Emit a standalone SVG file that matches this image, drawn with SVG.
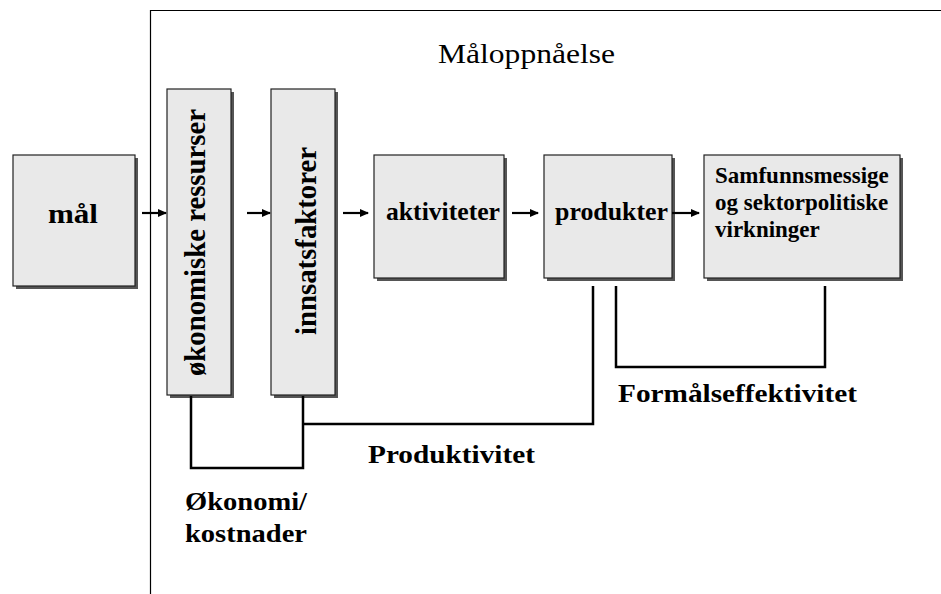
<svg xmlns="http://www.w3.org/2000/svg" width="941" height="594" viewBox="0 0 941 594">
<defs>
<marker id="ah" markerWidth="10" markerHeight="10" refX="8" refY="5" orient="auto" markerUnits="userSpaceOnUse">
<path d="M0,1 L9,5 L0,9 Z" fill="#000"/>
</marker>
</defs>
<style>
.box{fill:#e9e9e9;stroke:#222;stroke-width:1.2}
.sh{fill:#555}
.ln{fill:none;stroke:#000;stroke-width:2.5}
.ar{fill:none;stroke:#000;stroke-width:2.2;marker-end:url(#ah)}
</style>
<rect width="941" height="594" fill="#fff"/>
<g id="frame">
<path d="M150.5,594 V10.5 H941" fill="none" stroke="#000" stroke-width="1.2"/>
<text font-family="Liberation Serif" x="438" y="63" font-size="27" textLength="177" lengthAdjust="spacingAndGlyphs">Måloppnåelse</text>
</g>
<g id="mal">
<rect class="sh" x="16" y="158" width="122" height="131"/>
<rect class="box" x="13" y="155" width="122" height="131"/>
<text font-family="Liberation Serif" font-weight="bold" x="48" y="223" font-size="27" textLength="50" lengthAdjust="spacingAndGlyphs">mål</text>
</g>
<g id="okonomiske">
<rect class="sh" x="170" y="92" width="64" height="306"/>
<rect class="box" x="167" y="89" width="64" height="306"/>
<text font-family="Liberation Serif" font-weight="bold" transform="translate(205,376) rotate(-90)" font-size="28.5" textLength="267" lengthAdjust="spacingAndGlyphs">økonomiske ressurser</text>
</g>
<g id="innsats">
<rect class="sh" x="274" y="92" width="64" height="306"/>
<rect class="box" x="271" y="89" width="64" height="306"/>
<text font-family="Liberation Serif" font-weight="bold" transform="translate(316,335) rotate(-90)" font-size="28.5" textLength="188" lengthAdjust="spacingAndGlyphs">innsatsfaktorer</text>
</g>
<g id="aktiviteter">
<rect class="sh" x="377" y="158" width="130" height="123"/>
<rect class="box" x="374" y="155" width="130" height="123"/>
<text font-family="Liberation Serif" font-weight="bold" x="386" y="220" font-size="26" textLength="114" lengthAdjust="spacingAndGlyphs">aktiviteter</text>
</g>
<g id="produkter">
<rect class="sh" x="547" y="158" width="128" height="123"/>
<rect class="box" x="544" y="155" width="128" height="123"/>
<text font-family="Liberation Serif" font-weight="bold" x="555" y="220" font-size="26" textLength="113" lengthAdjust="spacingAndGlyphs">produkter</text>
</g>
<g id="samfunn">
<rect class="sh" x="707" y="158" width="196" height="123"/>
<rect class="box" x="704" y="155" width="196" height="123"/>
<text font-family="Liberation Serif" font-weight="bold" font-size="23">
<tspan x="715" y="183">Samfunnsmessige</tspan>
<tspan x="715" y="210">og sektorpolitiske</tspan>
<tspan x="715" y="237">virkninger</tspan>
</text>
</g>
<g id="connectors">
<line class="ar" x1="142" y1="213" x2="166" y2="213"/>
<line class="ar" x1="247" y1="213" x2="270" y2="213"/>
<line class="ar" x1="343" y1="213" x2="368" y2="213"/>
<line class="ar" x1="512" y1="213" x2="538" y2="213"/>
<line class="ar" x1="672" y1="213" x2="699" y2="213"/>
<path class="ln" d="M191,396 V468 H303 V396"/>
<path class="ln" d="M303,424 H593 V286"/>
<path class="ln" d="M616,286 V367 H825 V286"/>
</g>
<g id="labels">
<text font-family="Liberation Serif" font-weight="bold" x="618" y="402" font-size="26" textLength="239" lengthAdjust="spacingAndGlyphs">Formålseffektivitet</text>
<text font-family="Liberation Serif" font-weight="bold" x="368" y="463" font-size="26" textLength="167" lengthAdjust="spacingAndGlyphs">Produktivitet</text>
<text font-family="Liberation Serif" font-weight="bold" x="185" y="510" font-size="26" textLength="122" lengthAdjust="spacingAndGlyphs">Økonomi/</text>
<text font-family="Liberation Serif" font-weight="bold" x="185" y="542" font-size="26" textLength="122" lengthAdjust="spacingAndGlyphs">kostnader</text>
</g>
</svg>
